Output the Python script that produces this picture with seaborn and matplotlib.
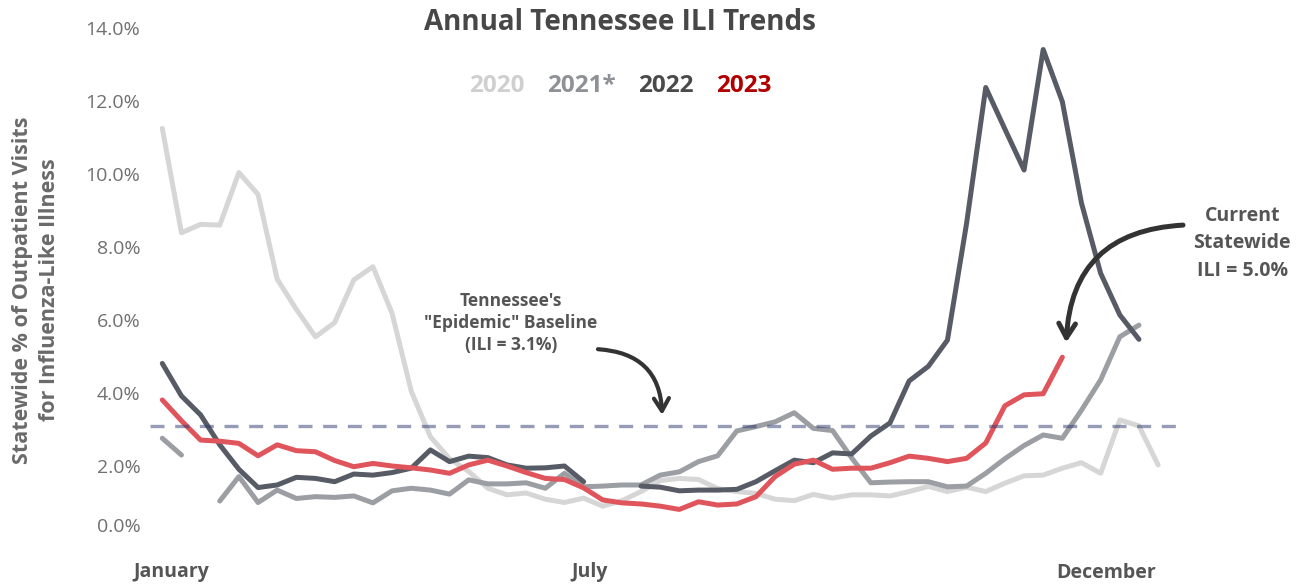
import numpy as np
import pandas as pd
import matplotlib
matplotlib.use("Agg")
import matplotlib.pyplot as plt
import matplotlib.transforms as mtransforms
from matplotlib.ticker import FuncFormatter
import seaborn as sns

# weekly ILI values (% of outpatient visits)
weeks = list(range(1, 54))
nan = np.nan

ili_2020 = [11.25, 8.39, 8.62, 8.60, 10.04, 9.44, 7.12, 6.29, 5.54, 5.93,
            7.10, 7.46, 6.18, 4.05, 2.80, 2.20, 1.85, 1.39, 1.21, 1.26,
            1.09, 1.00, 1.12, 0.90, 1.05, 1.30, 1.60, 1.66, 1.63, 1.38,
            1.30, 1.25, 1.09, 1.05, 1.22, 1.12, 1.21, 1.21, 1.18, 1.30,
            1.44, 1.30, 1.42, 1.30, 1.53, 1.73, 1.75, 1.94, 2.09, 1.80,
            3.26, 3.10, 2.03]
ili_2021 = [2.76, 2.30, nan, 1.04, 1.71, 1.00, 1.34, 1.11, 1.16, 1.14,
            1.18, 0.99, 1.32, 1.39, 1.34, 1.23, 1.62, 1.51, 1.51, 1.54,
            1.39, 1.80, 1.43, 1.45, 1.48, 1.48, 1.75, 1.84, 2.12, 2.28,
            2.96, 3.08, 3.21, 3.46, 3.03, 2.97, 2.22, 1.54, 1.56, 1.57,
            1.57, 1.43, 1.45, 1.80, 2.20, 2.56, 2.85, 2.76, 3.53, 4.36,
            5.54, 5.86, nan]
ili_2022 = [4.81, 3.92, 3.40, 2.58, 1.91, 1.41, 1.48, 1.69, 1.66, 1.57,
            1.78, 1.75, 1.82, 1.94, 2.44, 2.12, 2.27, 2.23, 2.03, 1.94,
            1.95, 2.00, 1.57, nan, nan, 1.45, 1.42, 1.32, 1.34, 1.34,
            1.36, 1.57, 1.87, 2.16, 2.09, 2.36, 2.33, 2.82, 3.18, 4.33,
            4.73, 5.45, 8.65, 12.37, 11.23, 10.11, 13.41, 11.98, 9.20, 7.28,
            6.14, 5.47, nan]
ili_2023 = [3.81, 3.24, 2.71, 2.68, 2.62, 2.28, 2.58, 2.42, 2.39, 2.15,
            1.98, 2.07, 2.00, 1.95, 1.89, 1.80, 2.03, 2.16, 2.00, 1.82,
            1.66, 1.63, 1.40, 1.07, 0.99, 0.96, 0.90, 0.81, 1.02, 0.93,
            0.96, 1.16, 1.71, 2.05, 2.16, 1.91, 1.94, 1.94, 2.09, 2.27,
            2.21, 2.12, 2.21, 2.63, 3.65, 3.95, 3.98, 4.98, nan, nan,
            nan, nan, nan]

baseline = 3.1
current = 5.0
current_week = 48

years = ["2020", "2021", "2022", "2023"]
legend_labels = ["2020", "2021*", "2022", "2023"]
line_colors = {"2020": "#d6d6d6", "2021": "#9b9ea3", "2022": "#565b65", "2023": "#e0555c"}
legend_colors = ["#cfcfcf", "#8e9196", "#4a4a4a", "#b00000"]

month_ticks = [1.5, 23.3, 50.3]
month_labels = ["January", "July", "December"]

# long table, with a segment id so that missing weeks break the line
frames = []
for yr, vals in zip(years, [ili_2020, ili_2021, ili_2022, ili_2023]):
    d = pd.DataFrame({"week": weeks, "ili": vals, "year": yr})
    d["seg"] = yr + "_" + d["ili"].isna().cumsum().astype(str)
    frames.append(d.dropna())
df = pd.concat(frames, ignore_index=True)

sns.set_theme(style="white")
plt.rcParams["font.family"] = ["Open Sans", "DejaVu Sans"]

W, H = 1316, 588
fig = plt.figure(figsize=(W / 100, H / 100), dpi=100)
ax = fig.add_axes([150 / W, (H - 550) / H, (1180 - 150) / W, (550 - 15) / H])

sns.lineplot(data=df, x="week", y="ili", hue="year", units="seg", estimator=None,
             hue_order=years, palette=line_colors, linewidth=3.6, legend=False,
             solid_capstyle="round", ax=ax)

ax.axhline(baseline, color="#2e3a6e", alpha=0.5, lw=2.4, ls=(0, (4.2, 3.2)), zorder=5)

ax.set_xlim(1 - 12.3 / 19.15, 1 + (1180 - 162.3) / 19.15)
ax.set_ylim(-11 / 36.5, 524 / 36.5)
for s in ax.spines.values():
    s.set_visible(False)

ax.set_yticks(range(0, 15, 2))
ax.yaxis.set_major_formatter(FuncFormatter(lambda v, p: f"{v:.1f}%"))
ax.tick_params(axis="y", length=0, pad=7, labelsize=14, labelcolor="#707070")
ax.set_xticks(month_ticks)
ax.set_xticklabels(month_labels, fontweight="bold")
ax.tick_params(axis="x", length=0, pad=9, labelsize=14, labelcolor="#555555")
ax.set_xlabel("")
ax.set_ylabel("")

# the 0.0% label sits a little higher than its gridline
zero_lab = ax.get_yticklabels()[0]
zero_lab.set_transform(zero_lab.get_transform() +
                       mtransforms.ScaledTranslation(0, 0.14, fig.dpi_scale_trans))

fig.text(36 / W, 1 - 290 / H,
         "Statewide % of Outpatient Visits\nfor Influenza-Like Illness",
         rotation=90, ha="center", va="center", multialignment="center",
         fontsize=15.5, fontweight="bold", color="#6a6a6a", linespacing=1.4)

fig.text(620 / W, 1 - 22 / H, "Annual Tennessee ILI Trends", ha="center", va="center",
         fontsize=20, fontweight="bold", color="#474747")

for lab, col, xc in zip(legend_labels, legend_colors, [497, 581, 666, 744]):
    fig.text(xc / W, 1 - 86 / H, lab, ha="center", va="center",
             fontsize=17.5, fontweight="bold", color=col)

# annotations
ax.text(19.2, 5.92, "Tennessee's\n\"Epidemic\" Baseline\n(ILI = 3.1%)",
        ha="center", va="center", fontsize=12.5, fontweight="bold",
        color="#555555", linespacing=1.3)
ax.annotate("", xy=(27.1, baseline + 0.3), xytext=(23.75, 5.2),
            arrowprops=dict(arrowstyle="->,head_length=0.75,head_width=0.45",
                            connectionstyle="arc3,rad=-0.45", color="#333333",
                            lw=3, shrinkA=0, shrinkB=0))

ax.text(57.4, 8.1, "Current\nStatewide\nILI = " + f"{current:.1f}%",
        ha="center", va="center", fontsize=14, fontweight="bold",
        color="#555555", linespacing=1.5, clip_on=False)
ax.annotate("", xy=(current_week + 0.2, current + 0.38), xytext=(54.3, 8.6),
            annotation_clip=False,
            arrowprops=dict(arrowstyle="->,head_length=0.85,head_width=0.5",
                            connectionstyle="arc3,rad=0.45", color="#333333",
                            lw=3.6, shrinkA=0, shrinkB=0))

fig.savefig("out.png", dpi=100, facecolor="white")
